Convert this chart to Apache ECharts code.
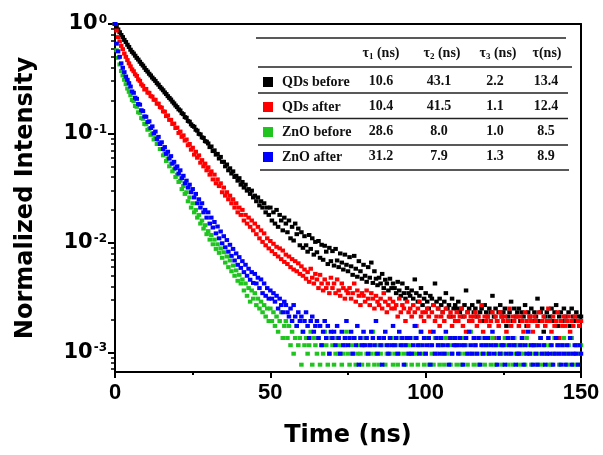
<!DOCTYPE html>
<html><head><meta charset="utf-8">
<script src="https://cdn.jsdelivr.net/npm/echarts@6/dist/echarts.min.js"></script>
<style>html,body{margin:0;padding:0;background:#fff}#c{width:603px;height:455px}</style>
</head><body><div id="c"></div>
<script>
// Time channels (ns)
const times = [
0,0.5,1,1.5,2,2.5,3,3.5,4,4.5,
5,5.5,6,6.5,7,7.5,8,8.5,9,9.5,
10,10.5,11,11.5,12,12.5,13,13.5,14,14.5,
15,15.5,16,16.5,17,17.5,18,18.5,19,19.5,
20,20.5,21,21.5,22,22.5,23,23.5,24,24.5,
25,25.5,26,26.5,27,27.5,28,28.5,29,29.5,
30,30.5,31,31.5,32,32.5,33,33.5,34,34.5,
35,35.5,36,36.5,37,37.5,38,38.5,39,39.5,
40,40.5,41,41.5,42,42.5,43,43.5,44,44.5,
45,45.5,46,46.5,47,47.5,48,48.5,49,49.5,
50,50.5,51,51.5,52,52.5,53,53.5,54,54.5,
55,55.5,56,56.5,57,57.5,58,58.5,59,59.5,
60,60.5,61,61.5,62,62.5,63,63.5,64,64.5,
65,65.5,66,66.5,67,67.5,68,68.5,69,69.5,
70,70.5,71,71.5,72,72.5,73,73.5,74,74.5,
75,75.5,76,76.5,77,77.5,78,78.5,79,79.5,
80,80.5,81,81.5,82,82.5,83,83.5,84,84.5,
85,85.5,86,86.5,87,87.5,88,88.5,89,89.5,
90,90.5,91,91.5,92,92.5,93,93.5,94,94.5,
95,95.5,96,96.5,97,97.5,98,98.5,99,99.5,
100,100.5,101,101.5,102,102.5,103,103.5,104,104.5,
105,105.5,106,106.5,107,107.5,108,108.5,109,109.5,
110,110.5,111,111.5,112,112.5,113,113.5,114,114.5,
115,115.5,116,116.5,117,117.5,118,118.5,119,119.5,
120,120.5,121,121.5,122,122.5,123,123.5,124,124.5,
125,125.5,126,126.5,127,127.5,128,128.5,129,129.5,
130,130.5,131,131.5,132,132.5,133,133.5,134,134.5,
135,135.5,136,136.5,137,137.5,138,138.5,139,139.5,
140,140.5,141,141.5,142,142.5,143,143.5,144,144.5,
145,145.5,146,146.5,147,147.5,148,148.5,149,149.5,
150];

// Normalized intensity, QDs before (black)
const qdsBefore = [
1,0.944,0.891,0.841,0.794,0.759,0.716,0.684,0.646,0.617,
0.582,0.556,0.537,0.513,0.49,0.473,0.452,0.432,0.417,0.398,
0.38,0.367,0.351,0.339,0.324,0.313,0.302,0.288,0.279,0.266,
0.257,0.248,0.237,0.229,0.219,0.211,0.204,0.195,0.188,0.18,
0.174,0.166,0.162,0.153,0.15,0.141,0.139,0.13,0.128,0.121,
0.117,0.115,0.108,0.106,0.099,0.098,0.092,0.091,0.085,0.084,
0.081,0.075,0.076,0.069,0.07,0.064,0.065,0.059,0.061,0.055,
0.055,0.05,0.052,0.046,0.048,0.043,0.045,0.04,0.041,0.037,
0.039,0.034,0.036,0.032,0.034,0.03,0.031,0.028,0.03,0.026,
0.027,0.024,0.026,0.022,0.024,0.021,0.023,0.019,0.021,0.018,
0.021,0.016,0.019,0.015,0.02,0.014,0.018,0.016,0.013,0.017,
0.015,0.0125,0.016,0.011,0.014,0.0105,0.015,0.012,0.0135,0.0095,
0.0125,0.009,0.0115,0.0095,0.0083,0.0118,0.0088,0.011,0.0078,0.0102,
0.0082,0.0104,0.0073,0.0096,0.007,0.0094,0.0083,0.0064,0.009,0.0068,
0.0084,0.0062,0.0088,0.0069,0.006,0.008,0.0066,0.0057,0.0078,0.0063,
0.0055,0.0074,0.0061,0.0051,0.0076,0.0058,0.0049,0.0068,0.0055,0.0047,
0.0063,0.005,0.0044,0.006,0.0048,0.0066,0.0043,0.0055,0.0047,0.0041,
0.0048,0.00425,0.0052,0.00386,0.0046,0.00425,0.00367,0.0047,0.00386,0.00425,
0.00386,0.00347,0.0044,0.00367,0.00328,0.00425,0.00347,0.00309,0.00386,0.00347,
0.00328,0.00367,0.00309,0.00463,0.00347,0.0029,0.00328,0.00386,0.0027,0.00309,
0.00347,0.0029,0.00251,0.00328,0.00309,0.0027,0.00425,0.0029,0.00251,0.00309,
0.0027,0.00232,0.0029,0.00347,0.00251,0.0027,0.00212,0.00309,0.00251,0.0027,
0.00251,0.0029,0.00232,0.00251,0.00212,0.0027,0.00367,0.00232,0.00251,0.00193,
0.0027,0.00232,0.00251,0.00212,0.0029,0.00232,0.00251,0.00193,0.0027,0.00232,
0.00212,0.00251,0.00232,0.00328,0.00212,0.00251,0.00193,0.00232,0.0027,0.00212,
0.00232,0.00251,0.00174,0.00212,0.00232,0.0029,0.00193,0.00251,0.00212,0.00232,
0.00251,0.00193,0.00232,0.00212,0.0027,0.00174,0.00232,0.00212,0.00251,0.00193,
0.00232,0.00212,0.00309,0.00193,0.00232,0.00251,0.00154,0.00212,0.00232,0.00193,
0.00212,0.00251,0.00193,0.00232,0.0027,0.00174,0.00212,0.00232,0.00193,0.00251,
0.00212,0.00193,0.00232,0.00174,0.00251,0.00212,0.00193,0.00232,0.00212,0.00174,
0.00212];

// QDs after (red)
const qdsAfter = [
1,0.871,0.759,0.692,0.631,0.589,0.537,0.501,0.468,0.437,
0.41,0.385,0.37,0.347,0.335,0.312,0.302,0.281,0.272,0.252,
0.255,0.236,0.235,0.219,0.217,0.203,0.203,0.187,0.187,0.174,
0.172,0.159,0.158,0.144,0.146,0.133,0.133,0.122,0.123,0.112,
0.113,0.101,0.104,0.093,0.096,0.086,0.088,0.078,0.08,0.071,
0.074,0.064,0.068,0.06,0.063,0.054,0.057,0.05,0.053,0.046,
0.049,0.042,0.045,0.038,0.042,0.035,0.038,0.033,0.035,0.029,
0.032,0.027,0.029,0.025,0.027,0.023,0.025,0.021,0.023,0.019,
0.021,0.018,0.02,0.016,0.018,0.015,0.017,0.014,0.016,0.013,
0.015,0.012,0.014,0.011,0.013,0.0102,0.0122,0.0095,0.011,0.0089,
0.0104,0.0084,0.0098,0.0079,0.0092,0.0075,0.0089,0.0071,0.0085,0.0067,
0.0078,0.0064,0.0075,0.006,0.0071,0.0057,0.0068,0.0055,0.0065,0.0052,
0.0061,0.005,0.0057,0.0047,0.0054,0.0044,0.0058,0.0048,0.00425,0.0052,
0.00463,0.00386,0.0051,0.00425,0.00367,0.00463,0.00386,0.00425,0.00347,0.0048,
0.00386,0.00425,0.00347,0.00463,0.00367,0.00328,0.00425,0.00386,0.00309,0.00367,
0.00347,0.00386,0.00309,0.00347,0.00425,0.0029,0.00367,0.00328,0.0027,0.00347,
0.00328,0.0029,0.00367,0.00309,0.0027,0.00347,0.00309,0.00251,0.00328,0.0029,
0.0027,0.00309,0.00251,0.00347,0.0029,0.00232,0.0027,0.00309,0.00251,0.0029,
0.00251,0.0027,0.00212,0.00309,0.00232,0.0027,0.00251,0.00193,0.0029,0.00232,
0.00251,0.00212,0.0027,0.00232,0.00174,0.00251,0.0029,0.00212,0.00232,0.00193,
0.00232,0.00251,0.00212,0.00154,0.00232,0.0027,0.00193,0.00212,0.00251,0.00174,
0.00212,0.00232,0.00193,0.00251,0.00135,0.00212,0.00232,0.00174,0.00212,0.00193,
0.00232,0.00193,0.00212,0.00251,0.00174,0.00212,0.00154,0.00232,0.00193,0.00212,
0.00193,0.00212,0.00232,0.00174,0.00212,0.00193,0.0027,0.00154,0.00212,0.00193,
0.00212,0.00174,0.00193,0.00232,0.00135,0.00212,0.00193,0.00174,0.00232,0.00212,
0.00193,0.00212,0.00154,0.00193,0.00251,0.00174,0.00212,0.00193,0.00116,0.00212,
0.00174,0.00212,0.00193,0.00154,0.00232,0.00193,0.00174,0.00212,0.00193,0.00154,
0.00212,0.00193,0.00174,0.00232,0.00135,0.00193,0.00212,0.00174,0.00193,0.00251,
0.00193,0.00154,0.00212,0.00174,0.00193,0.00232,0.00135,0.00193,0.00174,0.00212,
0.00174,0.00193,0.00212,0.00154,0.00193,0.00174,0.00212,0.00116,0.00193,0.00174,
0.00193];

// ZnO before (green)
const znoBefore = [
1,0.575,0.49,0.427,0.372,0.339,0.309,0.282,0.257,0.24,
0.223,0.202,0.197,0.178,0.175,0.156,0.154,0.138,0.136,0.122,
0.121,0.108,0.11,0.097,0.1,0.088,0.091,0.08,0.082,0.072,
0.072,0.063,0.066,0.056,0.059,0.05,0.053,0.045,0.047,0.04,
0.042,0.036,0.037,0.031,0.033,0.028,0.029,0.024,0.026,0.021,
0.023,0.019,0.02,0.017,0.018,0.015,0.016,0.0135,0.0145,0.012,
0.0128,0.0107,0.0118,0.0097,0.0107,0.0088,0.0097,0.0081,0.0089,0.0073,
0.0082,0.0066,0.0075,0.006,0.0069,0.0055,0.0062,0.005,0.0056,0.0045,
0.0051,0.00425,0.00463,0.00367,0.00425,0.00328,0.00386,0.0029,0.00367,0.00309,
0.00347,0.0027,0.00309,0.00251,0.0029,0.00232,0.0027,0.00212,0.00251,0.00193,
0.00251,0.00193,0.00232,0.00174,0.00212,0.00154,0.00193,0.00232,0.00135,0.00174,
0.00193,0.00135,0.00174,0.00116,0.00154,0.00097,0.00135,0.00174,0.00116,0.00135,
0.00077,0.00154,0.00116,0.00135,0.00097,0.00116,0.00154,0.00077,0.00135,0.00116,
0.00097,0.00135,0.00077,0.00116,0.00097,0.00154,0.00116,0.00077,0.00097,0.00135,
0.00116,0.00077,0.00097,0.00135,0.00097,0.00116,0.00077,0.00097,0.00116,0.00154,
0.00097,0.00077,0.00116,0.00097,0.00135,0.00077,0.00097,0.00116,0.00097,0.00077,
0.00116,0.00135,0.00097,0.00077,0.00116,0.00097,0.00154,0.00077,0.00097,0.00116,
0.00077,0.00097,0.00116,0.00135,0.00077,0.00097,0.00116,0.00097,0.00135,0.00077,
0.00097,0.00116,0.00077,0.00097,0.00135,0.00116,0.00097,0.00077,0.00116,0.00097,
0.00116,0.00077,0.00097,0.00135,0.00097,0.00077,0.00116,0.00154,0.00097,0.00077,
0.00097,0.00135,0.00077,0.00116,0.00097,0.00077,0.00135,0.00097,0.00116,0.00077,
0.00116,0.00097,0.00077,0.00135,0.00097,0.00116,0.00077,0.00097,0.00135,0.00116,
0.00077,0.00116,0.00097,0.00077,0.00135,0.00097,0.00116,0.00077,0.00097,0.00154,
0.00097,0.00077,0.00116,0.00097,0.00077,0.00135,0.00097,0.00116,0.00077,0.00097,
0.00116,0.00097,0.00077,0.00135,0.00116,0.00077,0.00097,0.00116,0.00097,0.00077,
0.00097,0.00135,0.00116,0.00077,0.00097,0.00116,0.00077,0.00135,0.00097,0.00116,
0.00077,0.00097,0.00116,0.00097,0.00077,0.00135,0.00116,0.00097,0.00077,0.00116,
0.00097,0.00116,0.00077,0.00097,0.00135,0.00077,0.00097,0.00116,0.00097,0.00077,
0.00116,0.00077,0.00097,0.00135,0.00097,0.00116,0.00077,0.00097,0.00116,0.00135,
0.00097,0.00077,0.00116,0.00097,0.00135,0.00077,0.00097,0.00116,0.00077,0.00097,
0.00116];

// ZnO after (blue)
const znoAfter = [
1,0.661,0.562,0.501,0.437,0.398,0.363,0.331,0.309,0.288,
0.268,0.242,0.235,0.212,0.207,0.186,0.183,0.163,0.16,0.143,
0.142,0.127,0.129,0.112,0.116,0.1,0.104,0.089,0.093,0.08,
0.083,0.072,0.075,0.065,0.068,0.059,0.062,0.053,0.055,0.048,
0.05,0.043,0.046,0.039,0.041,0.035,0.037,0.032,0.034,0.029,
0.031,0.026,0.028,0.023,0.025,0.021,0.023,0.019,0.02,0.017,
0.019,0.015,0.017,0.0138,0.0155,0.0122,0.0141,0.011,0.0127,0.0099,
0.0115,0.0091,0.0106,0.0083,0.0096,0.0076,0.0088,0.0069,0.008,0.0063,
0.0074,0.0059,0.0068,0.0054,0.0063,0.005,0.0058,0.0046,0.0054,0.0043,
0.0052,0.00425,0.0048,0.00386,0.00463,0.00347,0.00425,0.00328,0.00386,0.00309,
0.00367,0.00309,0.00347,0.0029,0.00328,0.00251,0.00309,0.0027,0.00232,0.0029,
0.0027,0.00232,0.00212,0.00251,0.00193,0.0027,0.00212,0.00174,0.00232,0.00193,
0.00212,0.00154,0.00193,0.00232,0.00174,0.00135,0.00193,0.00212,0.00154,0.00174,
0.00193,0.00135,0.00174,0.00116,0.00154,0.00193,0.00135,0.00174,0.00097,0.00154,
0.00135,0.00154,0.00116,0.00174,0.00135,0.00097,0.00154,0.00116,0.00135,0.00193,
0.00116,0.00135,0.00154,0.00097,0.00135,0.00116,0.00174,0.00077,0.00135,0.00116,
0.00154,0.00116,0.00135,0.00097,0.00116,0.00154,0.00135,0.00116,0.00193,0.00097,
0.00135,0.00116,0.00077,0.00135,0.00154,0.00116,0.00097,0.00135,0.00116,0.00174,
0.00116,0.00135,0.00097,0.00154,0.00116,0.00135,0.00077,0.00116,0.00135,0.00097,
0.00135,0.00097,0.00116,0.00174,0.00135,0.00116,0.00097,0.00154,0.00116,0.00135,
0.00097,0.00116,0.00135,0.00077,0.00116,0.00154,0.00097,0.00135,0.00116,0.00097,
0.00135,0.00116,0.00097,0.00154,0.00116,0.00077,0.00135,0.00097,0.00116,0.00135,
0.00116,0.00097,0.00135,0.00116,0.00077,0.00116,0.00135,0.00097,0.00154,0.00116,
0.00097,0.00135,0.00116,0.00097,0.00135,0.00077,0.00116,0.00097,0.00135,0.00116,
0.00135,0.00097,0.00116,0.00154,0.00097,0.00116,0.00077,0.00135,0.00097,0.00116,
0.00116,0.00077,0.00097,0.00135,0.00116,0.00097,0.00135,0.00116,0.00077,0.00097,
0.00097,0.00116,0.00135,0.00077,0.00116,0.00097,0.00154,0.00097,0.00116,0.00077,
0.00116,0.00097,0.00077,0.00116,0.00135,0.00097,0.00116,0.00077,0.00097,0.00135,
0.00097,0.00116,0.00077,0.00097,0.00135,0.00116,0.00097,0.00077,0.00116,0.00097,
0.00077,0.00116,0.00097,0.00135,0.00077,0.00097,0.00116,0.00097,0.00077,0.00116,
0.00097];

const seriesNames = ['QDs before', 'QDs after', 'ZnO before', 'ZnO after'];
const seriesValues = [qdsBefore, qdsAfter, znoBefore, znoAfter];
const seriesColors = ['#000000', '#ff0000', '#1fc41f', '#0000ff'];

// Inset table values
const tableHeaders = ['1', '2', '3', ''];
const tau1 = ['10.6', '10.4', '28.6', '31.2'];
const tau2 = ['43.1', '41.5', '8.0', '7.9'];
const tau3 = ['2.2', '1.1', '1.0', '1.3'];
const tauAvg = ['13.4', '12.4', '8.5', '8.9'];

// Axis ticks
const xTickValues = [0, 50, 100, 150];
const yTickValues = [0.001, 0.01, 0.1, 1];
const yTickExponents = ['-3', '-2', '-1', '0'];
const yMinorTickValues = [0.0007, 0.0008, 0.0009,
  0.002, 0.003, 0.004, 0.005, 0.006, 0.007, 0.008, 0.009,
  0.02, 0.03, 0.04, 0.05, 0.06, 0.07, 0.08, 0.09,
  0.2, 0.3, 0.4, 0.5, 0.6, 0.7, 0.8, 0.9];

const Y_MIN = 0.00066, Y_MAX = 1;
const SANS = '"Liberation Sans", Arial, sans-serif';
const WIDE = '"DejaVu Sans", sans-serif';
const SERIF = '"Liberation Serif", "Times New Roman", serif';

const chart = echarts.init(document.getElementById('c'), null, { renderer: 'canvas' });

// Table layout (pixels)
const colX = [381, 439, 495, 546];
const headX = [381, 442, 498, 547];
const rowY = [81, 106, 131, 156.5];
const headY = 53;
const lines = [
  [256, 38, 566], [258, 67, 572], [258, 93, 568], [258, 118.5, 568], [258, 145, 568], [260, 170, 569]
];
const graphics = [];
lines.forEach(l => graphics.push({
  type: 'line', shape: { x1: l[0], y1: l[1], x2: l[2], y2: l[1] },
  style: { stroke: '#222', lineWidth: 1.5 }, silent: true
}));
tableHeaders.forEach((h, i) => graphics.push({
  type: 'text', x: headX[i], y: headY, silent: true,
  style: {
    text: h ? '{t|τ}{u|' + h + '}{t| (ns)}' : '{t|τ(ns)}',
    align: 'center', verticalAlign: 'middle',
    rich: {
      t: { fontFamily: SERIF, fontWeight: 'bold', fontSize: 14, fill: '#111', lineHeight: 16 },
      u: { fontFamily: SERIF, fontWeight: 'bold', fontSize: 9, fill: '#111', verticalAlign: 'bottom', lineHeight: 12 }
    }
  }
}));
[tau1, tau2, tau3, tauAvg].forEach((col, ci) => col.forEach((v, ri) => graphics.push({
  type: 'text', x: colX[ci], y: rowY[ri], silent: true,
  style: { text: v, align: 'center', verticalAlign: 'middle',
    font: 'bold 14px ' + SERIF, fill: '#111' }
})));

const option = {
  animation: false,
  backgroundColor: '#ffffff',
  grid: { left: 115, right: 22, top: 24, bottom: 83, containLabel: false },
  legend: {
    orient: 'vertical', left: 258, top: 69, itemWidth: 10, itemHeight: 10, itemGap: 9,
    icon: 'rect', selectedMode: false, data: seriesNames,
    textStyle: { fontFamily: SERIF, fontWeight: 'bold', fontSize: 14, color: '#111', lineHeight: 16, padding: [0, 0, 0, 4] }
  },
  xAxis: [
    {
      type: 'value', min: 0, max: 150, interval: 50, position: 'bottom',
      name: 'Time (ns)', nameLocation: 'middle', nameGap: 52,
      nameTextStyle: { fontFamily: WIDE, fontWeight: 'bold', fontSize: 24, color: '#000' },
      axisLine: { show: true, onZero: false, lineStyle: { color: '#000', width: 2 } },
      axisTick: { show: true, customValues: xTickValues, length: 6, lineStyle: { color: '#000', width: 2 } },
      minorTick: { show: true, splitNumber: 2, length: 3, lineStyle: { color: '#000', width: 2 } },
      axisLabel: { customValues: xTickValues, fontFamily: SANS, fontWeight: 'bold', fontSize: 22, color: '#000', margin: 10 },
      splitLine: { show: false }, minorSplitLine: { show: false }
    },
    {
      type: 'value', min: 0, max: 150, position: 'top',
      axisLine: { show: true, onZero: false, lineStyle: { color: '#000', width: 2 } },
      axisTick: { show: false }, axisLabel: { show: false }, splitLine: { show: false }
    }
  ],
  yAxis: [
    {
      type: 'log', logBase: 10, min: Y_MIN, max: Y_MAX, position: 'left',
      name: 'Normalized Intensity', nameLocation: 'middle', nameGap: 77,
      nameTextStyle: { fontFamily: WIDE, fontWeight: 'bold', fontSize: 24, color: '#000' },
      axisLine: { show: true, onZero: false, lineStyle: { color: '#000', width: 2 } },
      axisTick: { show: true, customValues: yTickValues, length: 7, lineStyle: { color: '#000', width: 2 } },
      axisLabel: {
        customValues: yTickValues, margin: 8,
        formatter: function (value) {
          const i = yTickValues.findIndex(v => Math.abs(Math.log10(v) - Math.log10(value)) < 1e-6);
          if (i < 0) return '';
          return '{b|10}{s|' + yTickExponents[i] + '}';
        },
        rich: {
          b: { fontFamily: WIDE, fontWeight: 'bold', fontSize: 21, color: '#000', lineHeight: 20 },
          s: { fontFamily: WIDE, fontWeight: 'bold', fontSize: 12, color: '#000', verticalAlign: 'top', lineHeight: 12, padding: [0, 0, 0, 1] }
        }
      },
      splitLine: { show: false }
    },
    {
      type: 'log', logBase: 10, min: Y_MIN, max: Y_MAX, position: 'left',
      axisLine: { show: false },
      axisTick: { show: true, customValues: yMinorTickValues, length: 4, lineStyle: { color: '#000', width: 1.5 } },
      axisLabel: { show: false }, splitLine: { show: false }
    },
    {
      type: 'log', logBase: 10, min: Y_MIN, max: Y_MAX, position: 'right',
      axisLine: { show: true, onZero: false, lineStyle: { color: '#000', width: 2 } },
      axisTick: { show: false }, axisLabel: { show: false }, splitLine: { show: false }
    }
  ],
  series: seriesNames.map((name, si) => ({
    name: name, type: 'scatter', xAxisIndex: 0, yAxisIndex: 0,
    symbol: 'rect', symbolSize: [4.5, 4],
    itemStyle: { color: seriesColors[si], opacity: 1 },
    silent: true,
    data: times.map((t, i) => [t, seriesValues[si][i]])
  })),
  graphic: { elements: graphics }
};
chart.setOption(option);
</script>
</body></html>
